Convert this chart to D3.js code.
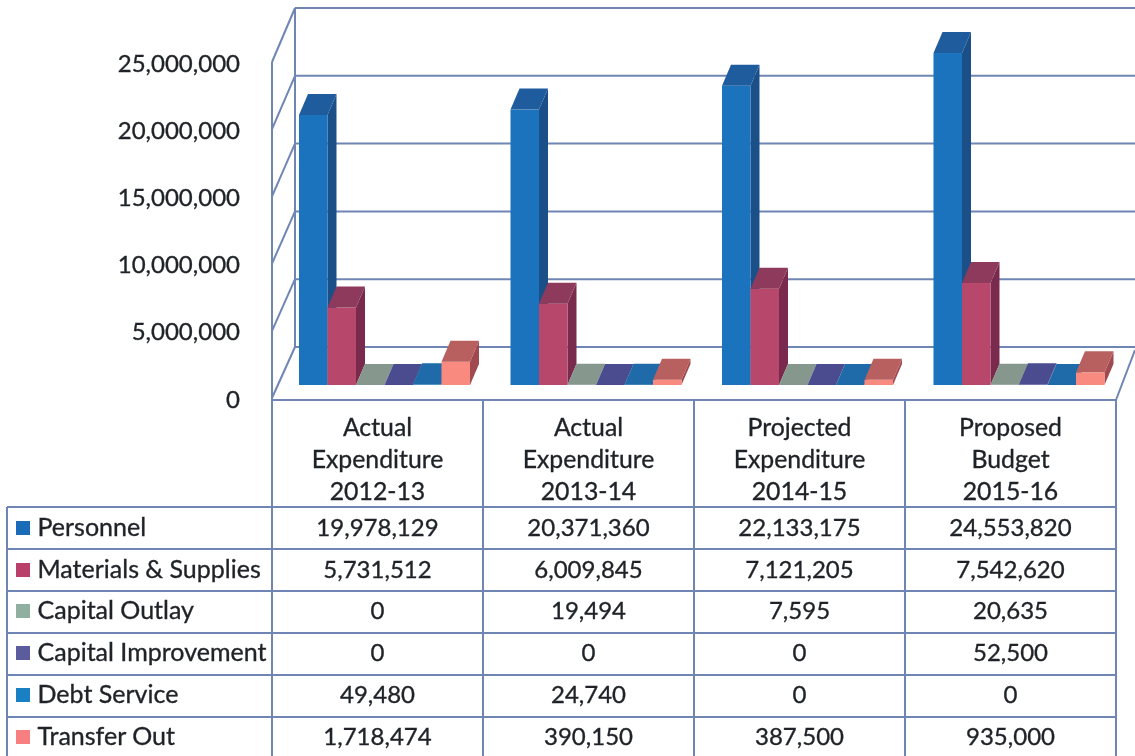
<!DOCTYPE html>
<html><head><meta charset="utf-8">
<script src="https://cdnjs.cloudflare.com/ajax/libs/d3/7.8.5/d3.min.js"></script>
<style>html,body{margin:0;background:#fff}svg{display:block;filter:blur(0.45px)}text{font-family:Lato,"Open Sans",sans-serif;fill:#1f2328;stroke:#1f2328;stroke-width:0.35px}</style>
</head><body><svg id="c" width="1135" height="756"></svg>
<script>
const periods=[["Actual","Expenditure","2012-13"],["Actual","Expenditure","2013-14"],["Projected","Expenditure","2014-15"],["Proposed","Budget","2015-16"]];
const seriesNames=["Personnel","Materials & Supplies","Capital Outlay","Capital Improvement","Debt Service","Transfer Out"];
const personnel=[19978129,20371360,22133175,24553820];
const materials=[5731512,6009845,7121205,7542620];
const capitalOutlay=[0,19494,7595,20635];
const capitalImprovement=[0,0,0,52500];
const debtService=[49480,24740,0,0];
const transferOut=[1718474,390150,387500,935000];
const yTicks=[0,5000000,10000000,15000000,20000000,25000000];
const seriesValues=[personnel,materials,capitalOutlay,capitalImprovement,debtService,transferOut];
const frontColors=["#1b72bd","#b8486b","#7f9a8c","#55589c","#1a76b8","#f98a80"];
const topColors=["#1f5c9e","#8e3a5c","#86988e","#4a4c8f","#1f6aa8","#b8605f"];
const sideColors=["#1b4f88","#7a2a4c","#5f7a6e","#3a3c78","#14598f","#a04a50"];
const swatchColors=["#1b6cb8","#b8406a","#8fb0a0","#5a5c9e","#1a80c4","#f77f80"];

const svg=d3.select("#c");
const grid="#6f86b4";
const numFS=24, textFS=24.8, legendFS=25;
// geometry
const frontY=d3.scaleLinear().domain([0,25000000]).range([398,62]);
const backY=d3.scaleLinear().domain([0,25000000]).range([347,8]);
const barY=d3.scaleLinear().domain([0,25000000]).range([385,47]);
const colX=d3.scaleBand().domain(d3.range(4)).range([272,1116]);
const groupX=d3.scaleBand().domain(d3.range(4)).range([299,1145]);
const barX=d3.scaleBand().domain(d3.range(6)).range([0,171]);
const dx=9, dy=-21, wallDx=23;

const line=(x1,y1,x2,y2,w=2,c=grid)=>svg.append("line").attr("x1",x1).attr("y1",y1).attr("x2",x2).attr("y2",y2).attr("stroke",c).attr("stroke-width",w);

// walls and gridlines
line(272,frontY(25000000),272,400);
line(272+wallDx,backY(25000000),272+wallDx,backY(0));
yTicks.forEach(t=>{
  line(272,frontY(t),272+wallDx,backY(t));
  line(272+wallDx,backY(t),1135,backY(t));
});
line(1116,400,1135,350);

// y labels
svg.append("g").selectAll("text").data(yTicks).join("text")
 .attr("x",240).attr("y",t=>frontY(t)+3.5).attr("text-anchor","end").attr("dominant-baseline","middle")
 .attr("font-size",numFS).text(d3.format(","));

// bars
const bars=svg.append("g");
d3.range(4).forEach(g=>{
  seriesValues.forEach((vals,s)=>{
    const x0=groupX(g)+barX(s), w=barX.bandwidth(), x1=x0+w;
    const yt=barY(vals[g]), yb=barY(0);
    bars.append("path").attr("fill",sideColors[s])
      .attr("d",`M${x1},${yt}L${x1+dx},${yt+dy}L${x1+dx},${yb+dy}L${x1},${yb}Z`);
    bars.append("rect").attr("fill",frontColors[s]).attr("x",x0).attr("y",yt).attr("width",w).attr("height",Math.max(0,yb-yt));
    bars.append("path").attr("fill",topColors[s])
      .attr("d",`M${x0},${yt}L${x0+dx},${yt+dy}L${x1+dx},${yt+dy}L${x1},${yt}Z`);
  });
});

// table
const rowLines=[507,549,591,633,675,717];
const rowCenters=[530,572,613,655,697,739];
const headerLines=[430,462,494];
line(272,400,1116,400);
rowLines.forEach(y=>line(7,y,1116,y));
line(7,507,7,756);
d3.range(5).forEach(i=>{const x=i<4?colX(i):1116;line(x,400,x,756);});

periods.forEach((p,g)=>{
  const cx=colX(g)+colX.bandwidth()/2;
  p.forEach((t,i)=>svg.append("text").attr("x",cx).attr("y",headerLines[i]).attr("text-anchor","middle").attr("dominant-baseline","middle").attr("font-size",textFS).text(t));
  seriesValues.forEach((vals,s)=>svg.append("text").attr("x",cx).attr("y",rowCenters[s]).attr("text-anchor","middle").attr("dominant-baseline","middle").attr("font-size",numFS).text(d3.format(",")(vals[g])));
});
seriesNames.forEach((n,s)=>{
  svg.append("rect").attr("x",16).attr("y",rowCenters[s]-9).attr("width",14).attr("height",14).attr("fill",swatchColors[s]);
  svg.append("text").attr("x",37.5).attr("y",rowCenters[s]).attr("dominant-baseline","middle").attr("font-size",legendFS).text(n);
});
</script></body></html>
